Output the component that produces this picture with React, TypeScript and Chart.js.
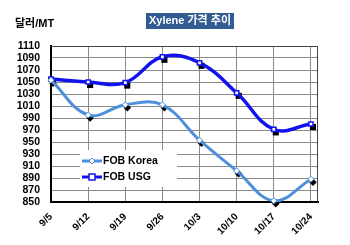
import React, { useEffect, useRef } from "react";
import { Chart, registerables } from "chart.js";

Chart.register(...registerables);

const categories = ["9/5", "9/12", "9/19", "9/26", "10/3", "10/10", "10/17", "10/24"];
const fobKorea = [1053, 995, 1012, 1012, 953, 902, 852, 888];
const fobUSG = [1055, 1050, 1049, 1092, 1082, 1032, 971, 980];
const yMin = 850;
const yMax = 1110;
const yStep = 20;
const titleText = "Xylene 가격 추이";
const unitText = "달러/MT";
const seriesNames = ["FOB Korea", "FOB USG"];

const FONT = "'Liberation Sans', Arial, 'Noto Sans CJK KR', sans-serif";
const KOREA_COLOR = "#4F90DA";
const USG_COLOR = "#1212EE";

const toPoints = (arr: number[]) => arr.map((v, i) => ({ x: i, y: v }));

const decorPlugin = {
  id: "decor",
  beforeDatasetDraw(chart: any, args: any) {
    const ds = chart.data.datasets[args.index];
    if (ds.isShadow) {
      chart.ctx.save();
      chart.ctx.translate(2, 3);
    }
  },
  afterDatasetDraw(chart: any, args: any) {
    const ds = chart.data.datasets[args.index];
    if (ds.isShadow) chart.ctx.restore();
  },
  beforeDatasetsDraw(chart: any) {
    const { ctx, chartArea: a } = chart;
    ctx.save();
    ctx.fillStyle = "#ffffff";
    ctx.fillRect(a.left + 29, a.top + 104, 97, 37);
    ctx.restore();
  },
  afterDraw(chart: any) {
    const { ctx, chartArea: a } = chart;
    ctx.save();
    ctx.strokeStyle = "#444";
    ctx.lineWidth = 1;
    ctx.beginPath();
    ctx.moveTo(a.left, a.top + 0.5);
    ctx.lineTo(a.right - 0.5, a.top + 0.5);
    ctx.lineTo(a.right - 0.5, a.bottom);
    ctx.stroke();

    ctx.font = `bold 11px ${FONT}`;
    const tw = ctx.measureText(titleText).width;
    const cx = 190;
    ctx.fillStyle = "#325C92";
    ctx.fillRect(cx - tw / 2 - 3, 13, tw + 6, 16);
    ctx.fillStyle = "#ffffff";
    ctx.textAlign = "center";
    ctx.textBaseline = "middle";
    ctx.fillText(titleText, cx, 21);

    ctx.fillStyle = "#000";
    ctx.textAlign = "left";
    ctx.font = `bold 11px ${FONT}`;
    ctx.fillText(unitText, 15, 24);

    const entries = [
      { label: seriesNames[0], color: KOREA_COLOR, style: "diamond", y: 161 },
      { label: seriesNames[1], color: USG_COLOR, style: "square", y: 177 },
    ];
    entries.forEach((e) => {
      const x0 = 82;
      const x1 = 102;
      ctx.strokeStyle = e.color;
      ctx.lineWidth = 3;
      ctx.beginPath();
      ctx.moveTo(x0, e.y);
      ctx.lineTo(x1, e.y);
      ctx.stroke();
      const mx = (x0 + x1) / 2;
      ctx.fillStyle = "#fff";
      ctx.lineWidth = 1.5;
      if (e.style === "diamond") {
        ctx.beginPath();
        ctx.moveTo(mx, e.y - 3);
        ctx.lineTo(mx + 3, e.y);
        ctx.lineTo(mx, e.y + 3);
        ctx.lineTo(mx - 3, e.y);
        ctx.closePath();
        ctx.fill();
        ctx.strokeStyle = e.color;
        ctx.lineWidth = 1;
        ctx.stroke();
      } else {
        ctx.fillRect(mx - 3, e.y - 3, 6, 6);
        ctx.strokeRect(mx - 3, e.y - 3, 6, 6);
      }
      ctx.fillStyle = "#000";
      ctx.font = `bold 10.5px ${FONT}`;
      ctx.textAlign = "left";
      ctx.textBaseline = "middle";
      ctx.fillText(e.label, 103, e.y + 0.5);
    });
    ctx.restore();
  },
};

export default function App() {
  const ref = useRef<HTMLCanvasElement>(null);

  useEffect(() => {
    document.body.style.margin = "0";
    const canvas = ref.current;
    if (!canvas) return;
    const chart = new Chart(canvas, {
      type: "line",
      data: {
        datasets: [
          {
            label: seriesNames[0],
            data: toPoints(fobKorea),
            borderColor: KOREA_COLOR,
            borderWidth: 3,
            tension: 0.4,
            pointStyle: "rectRot",
            pointRadius: 3,
            pointBackgroundColor: "#ffffff",
            pointBorderColor: KOREA_COLOR,
            pointBorderWidth: 1,
            clip: false,
            order: 1,
          } as any,
          {
            label: seriesNames[1],
            data: toPoints(fobUSG),
            borderColor: USG_COLOR,
            borderWidth: 3.5,
            tension: 0.4,
            pointStyle: "rect",
            pointRadius: 3,
            pointBackgroundColor: "#ffffff",
            pointBorderColor: USG_COLOR,
            pointBorderWidth: 1.5,
            clip: false,
            order: 1,
          } as any,
          {
            label: "shadowKorea",
            isShadow: true,
            data: toPoints(fobKorea),
            showLine: false,
            pointStyle: "rectRot",
            pointRadius: 3.8,
            pointBackgroundColor: "#000",
            pointBorderColor: "#000",
            pointBorderWidth: 0,
            clip: false,
            order: 2,
          } as any,
          {
            label: "shadowUSG",
            isShadow: true,
            data: toPoints(fobUSG),
            showLine: false,
            pointStyle: "rect",
            pointRadius: 4.3,
            pointBackgroundColor: "#000",
            pointBorderColor: "#000",
            pointBorderWidth: 0,
            clip: false,
            order: 2,
          } as any,
        ],
      },
      options: {
        animation: false,
        responsive: false,
        devicePixelRatio: 1,
        layout: { padding: { left: 0, top: 46, right: 32, bottom: 0 } },
        plugins: {
          legend: { display: false },
          title: { display: false },
          tooltip: { enabled: false },
        },
        scales: {
          x: {
            type: "linear",
            min: 0,
            max: categories.length - 1 + 0.19,
            afterBuildTicks: (s: any) => {
              s.ticks = categories.map((_, i) => ({ value: i }));
            },
            afterFit: (s: any) => {
              s.height = 43;
            },
            ticks: {
              autoSkip: false,
              minRotation: 45,
              maxRotation: 45,
              padding: 9,
              color: "#000",
              font: { family: FONT, size: 10, weight: "bold" },
              callback: (v: any) => categories[Math.round(Number(v))] ?? "",
            },
            grid: { color: "#8a8a8a", lineWidth: 1, drawTicks: false },
            border: { color: "#000", width: 2 },
          },
          y: {
            min: yMin,
            max: yMax,
            afterFit: (s: any) => {
              s.width = 51;
            },
            ticks: {
              stepSize: yStep,
              autoSkip: false,
              padding: 11,
              color: "#000",
              font: { family: FONT, size: 10.5, weight: "bold", lineHeight: 1 },
              callback: (v: any) => String(v),
            },
            grid: { color: "#8a8a8a", lineWidth: 1, drawTicks: false },
            border: { color: "#000", width: 2 },
          },
        },
      } as any,
      plugins: [decorPlugin],
    });
    return () => chart.destroy();
  }, []);

  return (
    <div style={{ width: 350, height: 245 }}>
      <canvas ref={ref} width={350} height={245} style={{ width: 350, height: 245 }} />
    </div>
  );
}
